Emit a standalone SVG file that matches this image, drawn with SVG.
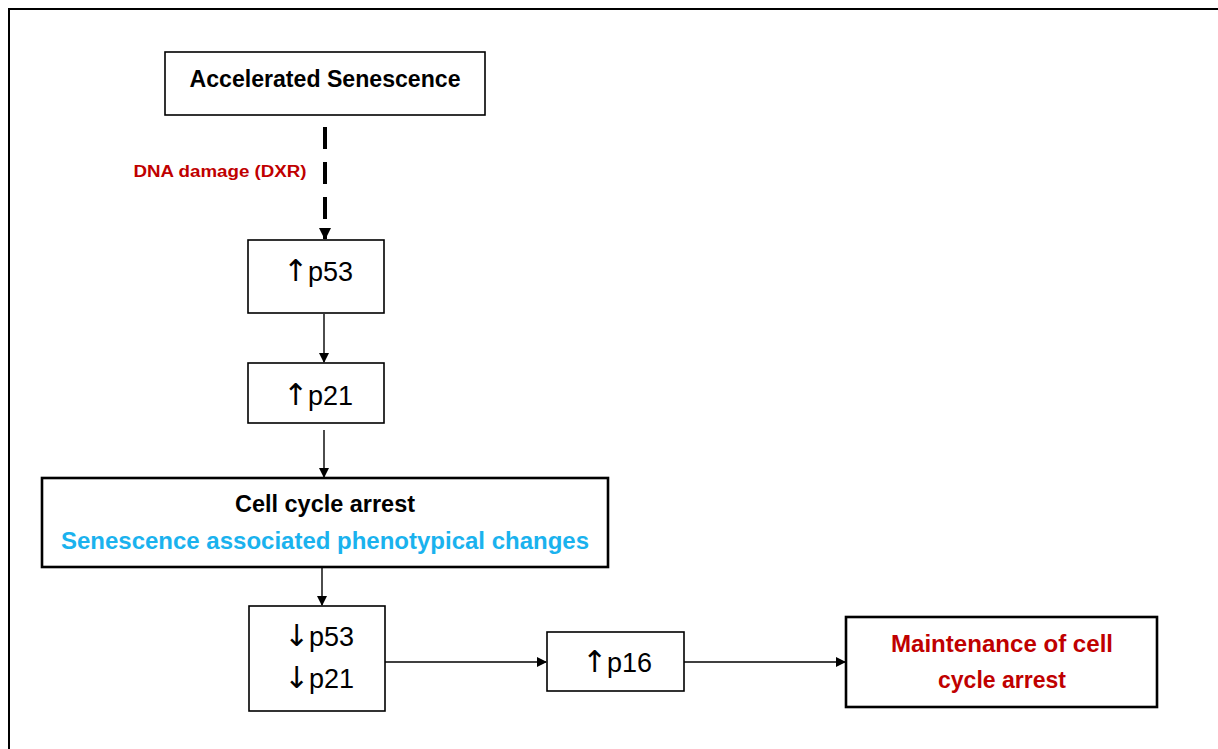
<svg xmlns="http://www.w3.org/2000/svg" width="1218" height="749" viewBox="0 0 1218 749">
<style>
.box{fill:#fff;stroke:#000;stroke-width:1.6}
.thick{fill:#fff;stroke:#000;stroke-width:2.6}
.t{font-family:"Liberation Sans",Arial,sans-serif;text-anchor:middle}
.b{font-weight:bold}
.p{font-size:27px;fill:#000}
.ar{font-family:"DejaVu Sans",sans-serif;font-size:30px}
.con{stroke:#000;stroke-width:1.4;fill:none}
</style>
<defs>
<marker id="ah" markerWidth="10" markerHeight="10" refX="9" refY="5" orient="auto" markerUnits="userSpaceOnUse">
<path d="M0,0 L10,5 L0,10 Z" fill="#000"/>
</marker>
<marker id="ahd" markerWidth="12" markerHeight="12" refX="11" refY="6" orient="auto" markerUnits="userSpaceOnUse">
<path d="M0,0 L12,6 L0,12 Z" fill="#000"/>
</marker>
</defs>
<rect width="1218" height="749" fill="#fff"/>
<path d="M9,749 V9 H1218" fill="none" stroke="#000" stroke-width="2"/>

<g id="connectors">
<line class="con" x1="325" y1="127" x2="325" y2="239" stroke-dasharray="22 13" marker-end="url(#ahd)" style="stroke-width:4"/>
<line class="con" x1="324" y1="314" x2="324" y2="362" marker-end="url(#ah)"/>
<line class="con" x1="324" y1="430" x2="324" y2="477" marker-end="url(#ah)"/>
<line class="con" x1="322" y1="567" x2="322" y2="605" marker-end="url(#ah)"/>
<line class="con" x1="385" y1="662" x2="546" y2="662" marker-end="url(#ah)"/>
<line class="con" x1="684" y1="662" x2="845" y2="662" marker-end="url(#ah)"/>
<text class="t b" x="220" y="177" font-size="16" fill="#c00000" textLength="173" lengthAdjust="spacingAndGlyphs">DNA damage (DXR)</text>
</g>

<g id="accelerated">
<rect class="box" x="165" y="52" width="320" height="63"/>
<text class="t b" x="325" y="87" font-size="23" fill="#000" textLength="271" lengthAdjust="spacingAndGlyphs">Accelerated Senescence</text>
</g>

<g id="p53up">
<rect class="box" x="248" y="240" width="136" height="73"/>
<text class="t p" x="318" y="281"><tspan class="ar">↑</tspan>p53</text>
</g>

<g id="p21up">
<rect class="box" x="248" y="363" width="136" height="60"/>
<text class="t p" x="318" y="405"><tspan class="ar">↑</tspan>p21</text>
</g>

<g id="arrest">
<rect class="thick" x="42" y="478" width="566" height="89"/>
<text class="t b" x="325" y="512" font-size="23" fill="#000" textLength="180" lengthAdjust="spacingAndGlyphs">Cell cycle arrest</text>
<text class="t b" x="325" y="549" font-size="24" fill="#1ab2ee" textLength="528" lengthAdjust="spacingAndGlyphs">Senescence associated phenotypical changes</text>
</g>

<g id="down">
<rect class="box" x="249" y="606" width="136" height="105"/>
<text class="t p" x="319" y="646"><tspan class="ar">↓</tspan>p53</text>
<text class="t p" x="319" y="688"><tspan class="ar">↓</tspan>p21</text>
</g>

<g id="p16up">
<rect class="box" x="547" y="632" width="137" height="59"/>
<text class="t p" x="617" y="672"><tspan class="ar">↑</tspan>p16</text>
</g>

<g id="maintenance">
<rect class="thick" x="846" y="617" width="311" height="90"/>
<text class="t b" x="1002" y="652" font-size="24" fill="#c00000" textLength="222" lengthAdjust="spacingAndGlyphs">Maintenance of cell</text>
<text class="t b" x="1002" y="688" font-size="24" fill="#c00000" textLength="128" lengthAdjust="spacingAndGlyphs">cycle arrest</text>
</g>
</svg>
